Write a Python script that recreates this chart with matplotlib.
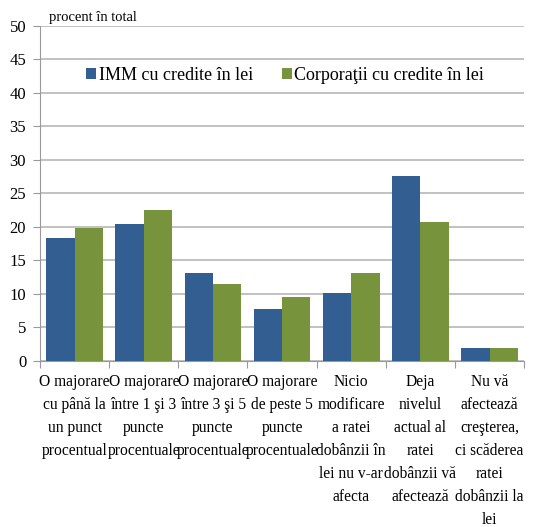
import matplotlib
matplotlib.use("Agg")
import matplotlib.pyplot as plt
import numpy as np

categories = [
    "O majorare\ncu până la\nun punct\nprocentual",
    "O majorare\nîntre 1 şi 3\npuncte\nprocentuale",
    "O majorare\nîntre 3 şi 5\npuncte\nprocentuale",
    "O majorare\nde peste 5\npuncte\nprocentuale",
    "Nicio\nmodificare\na ratei\ndobânzii în\nlei nu v-ar\nafecta",
    "Deja\nnivelul\nactual al\nratei\ndobânzii vă\nafectează",
    "Nu vă\nafectează\ncreşterea,\nci scăderea\nratei\ndobânzii la\nlei",
]
imm = [18.4, 20.4, 13.2, 7.8, 10.2, 27.6, 1.9]
corp = [19.9, 22.6, 11.5, 9.6, 13.1, 20.8, 2.0]
series_names = ["IMM cu credite în lei", "Corporaţii cu credite în lei"]
yticks = list(range(0, 55, 5))

plt.rcParams["font.family"] = ["Liberation Serif", "DejaVu Serif"]

fig = plt.figure(figsize=(5.52, 5.27), dpi=100)
ax = fig.add_axes([0.0725, 0.315, 0.877, 0.6357])

x = np.arange(len(categories))
w = 0.41
ax.bar(x - w / 2, imm, w, color="#335E91", label=series_names[0], zorder=3)
ax.bar(x + w / 2, corp, w, color="#77933C", label=series_names[1], zorder=3)

ax.set_xlim(-0.5, len(categories) - 0.5)
ax.set_ylim(0, 50)
ax.set_yticks(yticks)
ax.tick_params(axis="y", labelsize=12, length=5, color="#999999", pad=5)
ax.yaxis.grid(True, color="#b0b0b0", linewidth=1.1, zorder=0)

ax.set_xticks(np.arange(len(categories) + 1) - 0.5, minor=False)
ax.set_xticklabels([])
ax.tick_params(axis="x", length=5, color="#999999")
for i, lab in enumerate(categories):
    ax.text(i, -2.0, lab, ha="center", va="top", fontsize=11.2,
            linespacing=1.58, transform=ax.transData)

for s in ["top", "right"]:
    ax.spines[s].set_visible(False)
ax.spines["left"].set_color("#999999")
ax.spines["bottom"].set_color("#999999")

ax.text(0.018, 1.005, "procent în total", transform=ax.transAxes,
        fontsize=10.5, va="bottom", ha="left")

ax.legend(loc="upper left", bbox_to_anchor=(0.08, 0.9), ncol=2,
          frameon=False, fontsize=13, handlelength=0.55, handleheight=0.6,
          handletextpad=0.15, columnspacing=1.6, borderaxespad=0)

fig.savefig("out.png", dpi=100)
